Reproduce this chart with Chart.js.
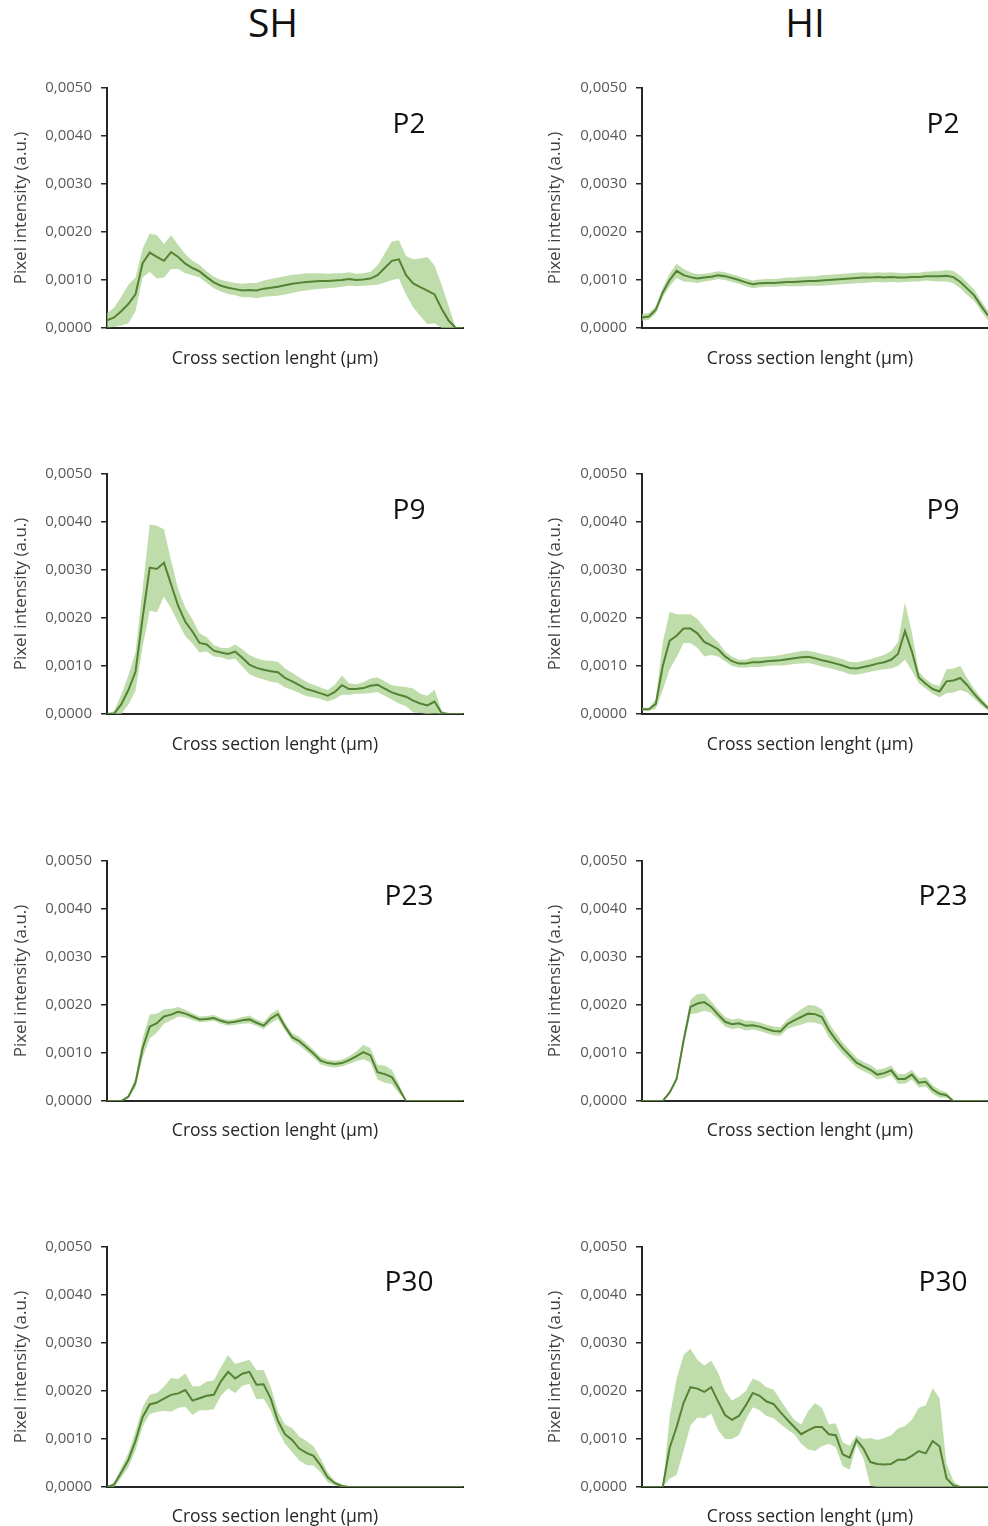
<!DOCTYPE html>
<html>
<head>
<meta charset="utf-8">
<title>Pixel intensity profiles</title>
<script src="https://cdn.jsdelivr.net/npm/chart.js@4.4.0/dist/chart.umd.min.js"></script>
<style>
  body { margin: 0; background: #fff; }
  #page { position: relative; width: 988px; height: 1526px; overflow: hidden; font-family: "Open Sans", sans-serif; }
  .col-title { position: absolute; top: 2px; width: 200px; font-size: 39px; line-height: 1; text-align: center; color: #111; }
  .plabel { position: absolute; width: 80px; font-size: 28px; line-height: 1; text-align: center; color: #111; }
  .xtitle { position: absolute; width: 300px; font-size: 17.5px; line-height: 1; text-align: center; color: #262626; white-space: nowrap; }
  canvas { position: absolute; }
</style>
</head>
<body>
<div id="page">
  <div class="col-title" style="left:173px">SH</div>
  <div class="col-title" style="left:705px">HI</div>
</div>

<script>
// values are in units of 1e-4 (pixel intensity, a.u.)
const SCALE = 1e-4;

// position along the cross section (0 = y axis, 100 = end of x axis)
const xPos = [0, 2, 4, 6, 8, 10, 12, 14, 16, 18, 20, 22, 24, 26, 28, 30, 32, 34, 36, 38, 40,
  42, 44, 46, 48, 50, 52, 54, 56, 58, 60, 62, 64, 66, 68, 70, 72, 74, 76, 78, 80,
  82, 84, 86, 88, 90, 92, 94, 96, 98, 100];

const yTicks = [0, 0.001, 0.002, 0.003, 0.004, 0.005];

const shP2Mean = [1.6, 2.2, 3.5, 5.0, 7.0, 13.5, 15.7, 14.8, 14.0, 15.8, 14.8, 13.4, 12.5, 11.8, 10.6, 9.5, 8.8,
  8.4, 8.1, 7.8, 7.9, 7.8, 8.2, 8.4, 8.6, 8.9, 9.2, 9.4, 9.6, 9.7, 9.8, 9.8, 9.9, 10.0, 10.2, 10.0, 10.1,
  10.3, 11.0, 12.5, 14.0, 14.3, 11.0, 9.3, 8.5, 7.8, 7.0, 4.0, 1.5, 0, 0];
const shP2Sd = [1.5, 2, 3, 4, 3.5, 3, 4, 4.5, 3.5, 3.5, 2.5, 2, 1.5, 1.3, 1.2, 1.2, 1.2, 1.3, 1.3, 1.4, 1.5,
  1.6, 1.7, 1.8, 1.9, 1.9, 1.9, 1.8, 1.8, 1.7, 1.6, 1.5, 1.5, 1.4, 1.4, 1.3, 1.3, 1.4, 2, 3, 4, 4, 4, 5, 6,
  7, 6, 5, 3, 0, 0];

const hiP2Mean = [2.2, 2.4, 3.8, 7.4, 10.0, 11.9, 11.0, 10.6, 10.3, 10.5, 10.7, 11.0, 10.8, 10.4, 10.0, 9.5,
  9.1, 9.3, 9.4, 9.4, 9.5, 9.6, 9.6, 9.7, 9.8, 9.8, 9.9, 10.0, 10.1, 10.2, 10.3, 10.4, 10.5, 10.5, 10.6,
  10.5, 10.6, 10.5, 10.5, 10.6, 10.6, 10.8, 10.8, 10.8, 10.9, 10.6, 9.6, 8.2, 6.8, 4.6, 2.6];
const hiP2Sd = [0.7, 0.7, 0.8, 1.0, 1.3, 1.5, 1.3, 1.0, 0.9, 0.8, 0.8, 0.8, 0.8, 0.8, 0.8, 0.8, 0.8, 0.8,
  0.8, 0.8, 0.8, 0.9, 0.9, 1.0, 1.0, 1.0, 1.1, 1.1, 1.1, 1.1, 1.1, 1.1, 1.1, 1.0, 1.0, 1.0, 1.0, 1.0, 0.9,
  0.9, 0.9, 0.9, 1.0, 1.1, 1.2, 1.3, 1.3, 1.3, 1.2, 1.1, 1.0];

const shP9Mean = [0, 0.1, 2.0, 5.0, 8.8, 20, 30.5, 30.2, 31.5, 27, 22.5, 19.2, 17.2, 14.8, 14.5, 13.2, 12.8,
  12.5, 13.0, 11.7, 10.3, 9.6, 9.2, 8.9, 8.7, 7.5, 6.8, 6.0, 5.2, 4.8, 4.3, 3.8, 4.6, 6.0, 5.2, 5.2, 5.4,
  5.9, 6.1, 5.3, 4.5, 4.0, 3.6, 2.8, 2.2, 1.8, 2.6, 0.2, 0, 0, 0];
const shP9Sd = [0, 0.5, 2, 3, 4, 6, 9, 9, 7, 5, 3.5, 3, 2.5, 2, 1.5, 1.2, 1, 1.2, 1.5, 1.8, 2, 2, 2, 2.2,
  2.2, 2, 1.8, 1.6, 1.5, 1.3, 1.2, 1.2, 1.5, 2, 1.2, 1, 1.2, 1.5, 1.5, 1.5, 1.5, 1.8, 2, 2.5, 2, 2, 2.5,
  0.5, 0, 0, 0];

const hiP9Mean = [1.0, 1.0, 2.1, 10.0, 15.3, 16.3, 17.8, 17.8, 16.8, 15.0, 14.3, 13.5, 12.0, 11.0, 10.5,
  10.5, 10.8, 10.8, 11.0, 11.1, 11.2, 11.4, 11.6, 11.8, 11.9, 11.6, 11.2, 10.9, 10.5, 10.1, 9.6, 9.5, 9.8,
  10.1, 10.5, 10.8, 11.3, 12.5, 17.3, 13.0, 7.6, 6.3, 5.2, 4.7, 6.8, 7.0, 7.5, 6.0, 4.2, 2.6, 1.2];
const hiP9Sd = [0.3, 0.3, 1, 5, 6, 4.5, 3, 3, 3, 3, 2, 1.5, 1, 1, 0.8, 0.8, 1, 1, 1, 1, 1.1, 1.2, 1.2, 1.3,
  1.3, 1.3, 1.3, 1.3, 1.3, 1.3, 1.3, 1.3, 1.3, 1.3, 1.4, 1.5, 1.8, 2.5, 6, 4, 1.2, 1, 1, 1.2, 2.5, 2.5, 2.5,
  1.5, 1, 0.8, 0.5];

const shP23Mean = [0, 0, 0, 0.9, 3.8, 11.0, 15.5, 16.2, 17.6, 18.0, 18.6, 18.2, 17.6, 17.0, 17.1, 17.3, 16.7,
  16.3, 16.5, 16.8, 17.0, 16.3, 15.7, 17.2, 18.1, 15.5, 13.3, 12.5, 11.2, 9.9, 8.4, 7.9, 7.7, 7.9, 8.5, 9.3,
  10.2, 9.5, 6.0, 5.6, 5.0, 2.6, 0, 0, 0, 0, 0, 0, 0, 0, 0];
const shP23Sd = [0, 0, 0, 0.3, 1, 2, 2.5, 2, 1.5, 1.2, 1, 0.8, 0.7, 0.6, 0.6, 0.6, 0.6, 0.6, 0.6, 0.7, 0.8,
  0.7, 0.7, 1, 1, 0.8, 0.8, 0.9, 0.9, 0.8, 0.8, 0.7, 0.7, 0.7, 0.8, 1, 1.5, 1.5, 1.5, 1.8, 1.5, 1, 0, 0,
  0, 0, 0, 0, 0, 0, 0];

const hiP23Mean = [0, 0, 0, 0, 1.8, 4.6, 12.5, 19.6, 20.3, 20.6, 19.6, 18.0, 16.5, 16.0, 16.2, 15.7, 15.8,
  15.5, 15.0, 14.6, 14.5, 16.0, 16.8, 17.5, 18.2, 18.1, 17.5, 14.8, 12.8, 11.0, 9.5, 8.0, 7.2, 6.5, 5.5,
  5.8, 6.4, 4.6, 4.6, 5.5, 3.8, 4.0, 2.4, 1.5, 1.2, 0, 0, 0, 0, 0, 0];
const hiP23Sd = [0, 0, 0, 0, 0.3, 0.6, 1, 1.5, 2, 1.8, 1.2, 1, 1, 1, 1, 1, 0.9, 0.9, 0.9, 0.9, 0.9, 1, 1.3,
  1.6, 1.8, 1.8, 1.6, 1.5, 1.3, 1.2, 1.1, 1, 1, 1, 1, 1, 1, 1, 1, 1, 1, 1, 0.9, 0.8, 0.6, 0, 0, 0, 0, 0, 0];

const shP30Mean = [0, 0.5, 3.0, 5.6, 9.6, 14.6, 17.2, 17.6, 18.4, 19.2, 19.5, 20.2, 18.0, 18.5, 19.0, 19.2,
  22.0, 24.0, 22.6, 23.6, 24.0, 21.3, 21.4, 18.4, 13.8, 11.0, 9.8, 8.0, 7.1, 6.5, 4.5, 2.0, 0.8, 0.2,
  0, 0, 0, 0, 0, 0, 0, 0, 0, 0, 0, 0, 0, 0, 0, 0, 0];
const shP30Sd = [0, 0.5, 1, 1.5, 2, 2, 2, 2, 2.5, 3.5, 3, 3.5, 3, 2.5, 3, 3, 3, 3.5, 3, 2.5, 2.5, 3, 3, 2.5,
  2, 2, 2.5, 2.5, 2.5, 2, 1.5, 1, 0.5, 0.3, 0, 0, 0, 0, 0, 0, 0, 0, 0, 0, 0, 0, 0, 0, 0, 0, 0];

const hiP30Mean = [0, 0, 0, 0, 8.2, 12.5, 17.5, 20.8, 20.5, 19.8, 20.8, 17.8, 15.0, 14.0, 14.8, 17.0, 19.6,
  19.0, 17.8, 17.3, 15.6, 14.0, 12.5, 11.0, 11.8, 12.5, 12.5, 11.0, 10.8, 6.8, 6.1, 9.8, 8.0, 5.2, 4.8,
  4.7, 4.8, 5.7, 5.7, 6.5, 7.5, 7.0, 9.6, 8.5, 1.8, 0.3, 0, 0, 0, 0, 0];
const hiP30Sd = [0, 0, 0, 0, 6.5, 10, 10, 8, 6, 5.5, 5.5, 6, 5, 4, 4, 3, 3, 3, 3, 3, 2.5, 2, 1.5, 2, 4, 5,
  4, 2, 2.5, 2.5, 2.5, 1, 2, 5, 5, 5.5, 6, 6.5, 7, 7.5, 9, 10, 11, 10, 3, 1, 0, 0, 0, 0, 0];

const LINE = "#548235";
const BAND = "rgba(169, 209, 142, 0.75)";
const AXIS = "#262626";
Chart.defaults.font.family = "'Open Sans', sans-serif";

const panels = [
  { label: "P2", col: 0, row: 0, mean: shP2Mean, sd: shP2Sd },
  { label: "P2", col: 1, row: 0, mean: hiP2Mean, sd: hiP2Sd },
  { label: "P9", col: 0, row: 1, mean: shP9Mean, sd: shP9Sd },
  { label: "P9", col: 1, row: 1, mean: hiP9Mean, sd: hiP9Sd },
  { label: "P23", col: 0, row: 2, mean: shP23Mean, sd: shP23Sd },
  { label: "P23", col: 1, row: 2, mean: hiP23Mean, sd: hiP23Sd },
  { label: "P30", col: 0, row: 3, mean: shP30Mean, sd: shP30Sd },
  { label: "P30", col: 1, row: 3, mean: hiP30Mean, sd: hiP30Sd },
];

const page = document.getElementById("page");

panels.forEach((p) => {
  const right = p.col === 1;
  const plotTop = 86 + 386.3 * p.row;

  const canvas = document.createElement("canvas");
  canvas.width = right ? 458 : 475;
  canvas.height = 300;
  canvas.style.left = (right ? 530 : 0) + "px";
  canvas.style.top = (plotTop - 16) + "px";
  page.appendChild(canvas);

  const lab = document.createElement("div");
  lab.className = "plabel";
  lab.textContent = p.label;
  lab.style.left = (right ? 903 : 369) + "px";
  lab.style.top = (plotTop + 21.5) + "px";
  page.appendChild(lab);

  // x axis title sits a little left of the plot centre, like the original
  const xt = document.createElement("div");
  xt.className = "xtitle";
  xt.textContent = "Cross section lenght (µm)";
  xt.style.left = (right ? 660 : 125) + "px";
  xt.style.top = (plotTop + 242 + 20.5) + "px";
  page.appendChild(xt);

  makeChart(canvas, p.mean, p.sd, right);
});

function makeChart(canvas, mean, sd, right) {
  const meanPts = xPos.map((x, i) => ({ x, y: mean[i] * SCALE }));
  const upper = xPos.map((x, i) => ({ x, y: (mean[i] + sd[i]) * SCALE }));
  const lower = xPos.map((x, i) => ({ x, y: Math.max(0, mean[i] - sd[i]) * SCALE }));

  return new Chart(canvas, {
    type: "line",
    data: {
      datasets: [
        { data: meanPts, borderColor: LINE, borderWidth: 2, pointRadius: 0, fill: false, tension: 0 },
        { data: upper, borderColor: "rgba(0,0,0,0)", borderWidth: 0, backgroundColor: BAND, pointRadius: 0, fill: "+1" },
        { data: lower, borderColor: "rgba(0,0,0,0)", borderWidth: 0, pointRadius: 0, fill: false },
      ],
    },
    options: {
      responsive: false,
      animation: false,
      events: [],
      layout: { padding: { top: 16, right: right ? 0 : 12, left: 0, bottom: 0 } },
      plugins: { legend: { display: false }, tooltip: { enabled: false } },
      scales: {
        x: {
          type: "linear",
          min: 0,
          max: 100,
          ticks: { display: false },
          grid: { display: false },
          border: { display: true, color: AXIS, width: 2 },
          afterFit: (s) => { s.height = 42; },
        },
        y: {
          min: 0,
          max: 0.005,
          afterBuildTicks: (s) => { s.ticks = yTicks.map((v) => ({ value: v })); },
          ticks: {
            callback: (v) => v.toFixed(4).replace(".", ","),
            color: "#595959",
            font: { size: 15 },
            padding: 9,
          },
          grid: { drawOnChartArea: false, drawTicks: true, tickLength: 6, color: AXIS, lineWidth: 1.5 },
          border: { display: true, color: AXIS, width: 2 },
          title: {
            display: true,
            text: "Pixel intensity (a.u.)",
            color: "#404040",
            font: { size: 17 },
            padding: { top: right ? 14.8 : 10.8, bottom: 0 },
          },
          afterFit: (s) => { s.width = right ? 112 : 107; },
        },
      },
    },
  });
}
</script>
</body>
</html>
